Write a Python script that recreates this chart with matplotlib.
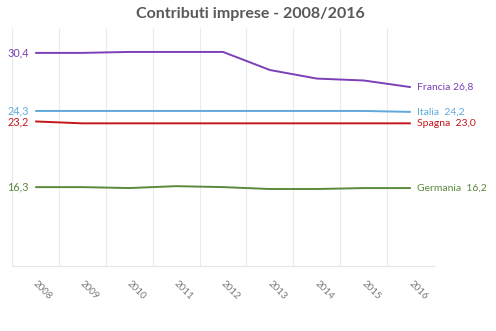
import matplotlib
matplotlib.use("Agg")
import matplotlib.pyplot as plt
import matplotlib.transforms as mtransforms
import numpy as np

years = ["2008", "2009", "2010", "2011", "2012", "2013", "2014", "2015", "2016"]
francia = [30.4, 30.4, 30.5, 30.5, 30.5, 28.6, 27.7, 27.5, 26.8]
italia = [24.3, 24.3, 24.3, 24.3, 24.3, 24.3, 24.3, 24.3, 24.2]
spagna = [23.2, 23.0, 23.0, 23.0, 23.0, 23.0, 23.0, 23.0, 23.0]
germania = [16.3, 16.3, 16.2, 16.4, 16.3, 16.1, 16.1, 16.2, 16.2]

series = [
    ("Francia", francia, "#7b3fb8", "Francia {}"),
    ("Italia", italia, "#5ea8dc", "Italia  {}"),
    ("Spagna", spagna, "#c4161c", "Spagna  {}"),
    ("Germania", germania, "#5b8a3c", "Germania  {}"),
]

plt.rcParams['font.family'] = ['Lato', 'DejaVu Sans']

fig = plt.figure(figsize=(4.96, 3.31), dpi=100)
ax = fig.add_axes([0.0236, 0.196, 0.852, 0.719])

x = np.arange(len(years))
for name, vals, col, fmt in series:
    ax.plot(x, vals, color=col, lw=1.4, solid_capstyle='butt')
    ax.annotate(f"{vals[0]:.1f}".replace(".", ","), xy=(x[0], vals[0]),
                xytext=(-4.5, 0), textcoords='offset points', ha='right', va='center',
                color=col, fontsize=7.8)
    ax.annotate(fmt.format(f"{vals[-1]:.1f}".replace(".", ",")), xy=(x[-1], vals[-1]),
                xytext=(4.5, 0), textcoords='offset points', ha='left', va='center',
                color=col, fontsize=7.5)

ax.set_xlim(-0.5, len(years) - 0.5)
ax.set_ylim(8, 33)
ax.set_yticks([])
ax.set_xticks(x)
ax.set_xticklabels(years, rotation=-45, ha='center', va='top', fontsize=7, color='#7a7a7a')
ax.tick_params(axis='x', length=0, pad=9)
offset = mtransforms.ScaledTranslation(7/100, 0, fig.dpi_scale_trans)
for lbl in ax.get_xticklabels():
    lbl.set_transform(lbl.get_transform() + offset)

ax.set_xticks(np.arange(-0.5, len(years), 1.0), minor=True)
ax.tick_params(axis='x', which='minor', length=0)
ax.grid(True, which='minor', axis='x', color='#ebebeb', lw=0.8)
ax.grid(False, which='major')
for s in ['top', 'left', 'right']:
    ax.spines[s].set_visible(False)
ax.spines['bottom'].set_color('#e6e6e6')
ax.spines['bottom'].set_linewidth(0.8)

fig.text(0.504, 0.958, "Contributi imprese - 2008/2016", ha='center', va='center',
         fontsize=11.5, fontweight='bold', color='#595959')

fig.savefig("out.png", dpi=100)
